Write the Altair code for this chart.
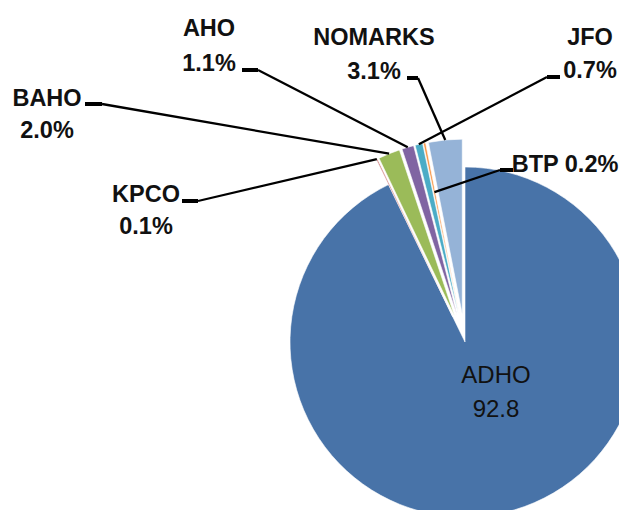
import math
import altair as alt
import pandas as pd

# ---------------- data ----------------
categories = ["ADHO", "KPCO", "BAHO", "AHO", "JFO", "BTP", "NOMARKS"]
shares = [92.8, 0.1, 2.0, 1.1, 0.7, 0.2, 3.1]
label_text = {
    "ADHO": ["ADHO", "92.8"],
    "KPCO": ["KPCO", "0.1%"],
    "BAHO": ["BAHO", "2.0%"],
    "AHO": ["AHO", "1.1%"],
    "JFO": ["JFO", "0.7%"],
    "BTP": ["BTP 0.2%"],
    "NOMARKS": ["NOMARKS", "3.1%"],
}

# ---------------- style / layout ----------------
colors = ["#4873A8", "#C0504D", "#9BBB59", "#8064A2", "#4BACC6", "#F79646", "#95B3D7"]
M = 8                      # page margin (coordinates below are page pixels)
CX, CY = 465 - M, 342 - M  # pie centre
R = 175                    # pie radius
EXPLODE = 28               # explosion of the small slices
FONT = "Liberation Sans, Arial"
FS_BOLD = 23.5
FS_REG = 24

# label layout: centre x, baselines of each line, stub (x_start, x_end, y), leader radius
label_layout = {
    "AHO": dict(x=209, ys=[36, 71], stub=(242, 258, 70), rl=R),
    "BAHO": dict(x=47, ys=[106, 138], stub=(85, 102, 104), rl=R),
    "KPCO": dict(x=146, ys=[202, 234], stub=(182, 198, 201), rl=R),
    "NOMARKS": dict(x=374, ys=[45, 79], stub=(407, 418, 78), rl=R),
    "JFO": dict(x=590, ys=[45, 78], stub=(560, 547, 77), rl=R),
    "BTP": dict(x=565, ys=[172], stub=(513, 500, 170), rl=125),
}
adho_layout = dict(x=496, ys=[383, 417])

# ---------------- derived tables ----------------
rows = []
cum = 0.0
for i, (c, v) in enumerate(zip(categories, shares)):
    start, end = cum, cum + v
    cum = end
    mid = (start + end) / 2 / 100 * 2 * math.pi
    ex = 0 if c == "ADHO" else EXPLODE
    rows.append(dict(cat=c, share=v, start=start, end=end, mid=mid,
                     px=CX + ex * math.sin(mid), py=CY - ex * math.cos(mid), ex=ex))
pie = pd.DataFrame(rows)
mids = {r["cat"]: r for r in rows}

txt_bold, leader_pts, stubs = [], [], []
for c, lay in label_layout.items():
    for line, y in zip(label_text[c], lay["ys"]):
        txt_bold.append(dict(t=line, x=lay["x"] - M, y=y - M))
    xs, xe, ys = lay["stub"]
    stubs.append(dict(key=c, x=xs - M, x2=xe - M, y=ys - M))
    r = mids[c]
    d = r["ex"] + lay["rl"]
    leader_pts.append(dict(key=c, k=0, lx=xe - M, ly=ys - M))
    leader_pts.append(dict(key=c, k=1, lx=CX + d * math.sin(r["mid"]), ly=CY - d * math.cos(r["mid"])))
txt_reg = [dict(t=line, x=adho_layout["x"] - M, y=y - M)
           for line, y in zip(label_text["ADHO"], adho_layout["ys"])]

# ---------------- chart ----------------
arcs = alt.Chart(pie).mark_arc(radius=R, stroke="white", strokeWidth=0.6).encode(
    theta=alt.Theta("start:Q", scale=alt.Scale(domain=[0, 100], range=[0, 2 * math.pi])),
    theta2="end:Q",
    x=alt.X("px:Q", scale=None, stack=False),
    y=alt.Y("py:Q", scale=None, stack=False),
    color=alt.Color("cat:N", scale=alt.Scale(domain=categories, range=colors), legend=None),
)

leaders = alt.Chart(pd.DataFrame(leader_pts)).mark_line(color="black", strokeWidth=2.3).encode(
    x=alt.X("lx:Q", scale=None),
    y=alt.Y("ly:Q", scale=None),
    detail="key:N",
    order="k:Q",
)

stub_rules = alt.Chart(pd.DataFrame(stubs)).mark_rule(color="black", strokeWidth=4).encode(
    x=alt.X("x:Q", scale=None),
    x2="x2:Q",
    y=alt.Y("y:Q", scale=None),
)

labels_bold = alt.Chart(pd.DataFrame(txt_bold)).mark_text(
    font=FONT, fontSize=FS_BOLD, fontWeight="bold", align="center", baseline="alphabetic", color="#111111"
).encode(x=alt.X("x:Q", scale=None), y=alt.Y("y:Q", scale=None), text="t:N")

labels_reg = alt.Chart(pd.DataFrame(txt_reg)).mark_text(
    font=FONT, fontSize=FS_REG, align="center", baseline="alphabetic", color="#111111"
).encode(x=alt.X("x:Q", scale=None), y=alt.Y("y:Q", scale=None), text="t:N")

chart = alt.layer(arcs, leaders, stub_rules, labels_bold, labels_reg).properties(
    width=611, height=502, padding=0, autosize=alt.AutoSizeParams(type="none")
).configure_view(stroke=None)

chart.save("out.html", embed_options={"renderer": "svg", "actions": False})
